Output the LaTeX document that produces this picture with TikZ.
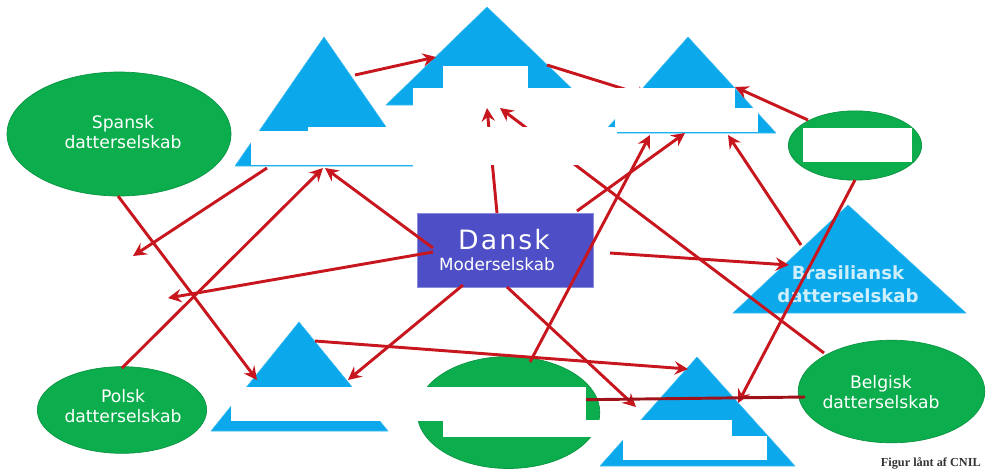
\documentclass[tikz,border=0pt]{standalone}
\usepackage{fontspec}
\setmainfont{DejaVu Sans}
\newfontfamily\capfont{Liberation Serif}
\usetikzlibrary{arrows.meta,shapes.geometric}
\definecolor{grn}{HTML}{0BAD4C}
\definecolor{blu}{HTML}{0BA9EC}
\definecolor{lnk}{HTML}{C8161F}
\definecolor{boxf}{HTML}{4E4EC6}
\definecolor{boxe}{HTML}{8A8CDC}
\tikzset{
  x=0.75pt,y=-0.75pt,
  oval/.style={ellipse,fill=grn,draw=grn!85!black,line width=0.5pt,inner sep=0pt},
  ovaltext/.style={text=white,align=center,inner sep=0pt,font=\fontsize{12.9}{14.6}\selectfont},
  tri/.style={fill=blu,draw=blu!80!white,line width=0.4pt,line join=round},
  link/.style={draw=lnk,line width=2.2pt,-{Stealth[length=10pt,width=10pt,inset=3.5pt]}},
  mask/.style={fill=white,draw=none},
}
\begin{document}
\begin{tikzpicture}
\useasboundingbox (0,0) rectangle (992,469);
% ovals
\node[oval,minimum width=168pt,minimum height=93pt] (spansk) at (119,134) {};
\node[oval,minimum width=127pt,minimum height=65pt] (polsk) at (122,410) {};
\node[oval,minimum width=100pt,minimum height=52pt] (topoval) at (855,145.5) {};
\node[oval,minimum width=137pt,minimum height=84pt] (midoval) at (508.5,412.5) {};
\node[oval,minimum width=140pt,minimum height=77pt] (belgisk) at (891.5,391.5) {};
% triangles
\fill[tri] (324,37) -- (413,166) -- (235,166) -- cycle;
\fill[tri] (487,7) -- (589,105) -- (386,105) -- cycle;
\fill[tri] (688,37) -- (776,133) -- (603,133) -- cycle;
\fill[tri] (848,205) -- (966,313) -- (733,313) -- cycle;
\fill[tri] (299,322) -- (388,431) -- (211,431) -- cycle;
\fill[tri] (697,357) -- (795,466) -- (600,466) -- cycle;
% box
\node[fill=boxf,draw=boxe,line width=1.2pt,minimum width=132pt,minimum height=55.5pt,inner sep=0pt] (box) at (505.5,250.5) {};
\node[text=white,font=\fontsize{20}{22}\selectfont,inner sep=0pt] (dansk) at (504,240) {D\kern1.6pt a\kern1.6pt n\kern1.6pt s\kern1.6pt k};
\node[text=white,font=\fontsize{12.6}{14}\selectfont,inner sep=0pt] (moder) at (497,264) {Moderselskab};
% connector ends
\coordinate (a1) at (355,75);   \coordinate (b1) at (436,57);
\coordinate (a2) at (547,65);   \coordinate (b2) at (650,97);
\coordinate (a3) at (497,213);  \coordinate (b3) at (487,108);
\coordinate (a4) at (824,353);  \coordinate (b4) at (500,108);
\coordinate (a5) at (577,211);  \coordinate (b5) at (685,133);
\coordinate (a6) at (530,362);  \coordinate (b6) at (650,135);
\coordinate (a7) at (801,245);  \coordinate (b7) at (728,135);
\coordinate (a8) at (808,120);  \coordinate (b8) at (735,87);
\coordinate (a9) at (855,180);  \coordinate (b9) at (738,403);
\coordinate (a10) at (610,253); \coordinate (b10) at (789,265);
\coordinate (a11) at (267,168); \coordinate (b11) at (133,256);
\coordinate (a12) at (118,196); \coordinate (b12) at (257,380);
\coordinate (a13) at (122,368); \coordinate (b13) at (323,168);
\coordinate (a14) at (433,248); \coordinate (b14) at (325,168);
\coordinate (a15) at (433,252); \coordinate (b15) at (168,298);
\coordinate (a16) at (463,285); \coordinate (b16) at (348,380);
\coordinate (a17) at (507,287); \coordinate (b17) at (636,407);
\coordinate (a18) at (315,341); \coordinate (b18) at (688,369);
\coordinate (a19) at (805,397); \coordinate (b19) at (560,400);
% labels under the lines
\node[text=blu!20!white,font=\bfseries\fontsize{13.6}{17}\selectfont,align=center,inner sep=0pt] (bras) at (848,284) {Brasiliansk\\datterselskab};
\node[ovaltext] (spansklabel) at (123,132) {Spansk\\datterselskab};
\node[ovaltext] (polsklabel) at (123,406) {Polsk\\datterselskab};
\node[ovaltext] (belgisklabel) at (881,392) {Belgisk\\datterselskab};
% connectors
\foreach \n in {1,...,18} \draw[link] (a\n) -- (b\n);
\draw[link,draw=lnk!80!black] (a19) -- (b19);
% blanked labels
\fill[mask] (443,66) rectangle (528,88);
\fill[mask] (413,88) rectangle (735,108);
\fill[mask] (615,108) rectangle (758,132);
\fill[mask] (251,131) rectangle (617,165);
\fill[mask] (308,127) rectangle (617,131);
\fill[mask] (803,128) rectangle (912,162);
\fill[mask] (231,387) rectangle (586,421);
\fill[mask] (443,420) rectangle (732,437);
\fill[mask] (623,436) rectangle (767,460);
% caption
\node[anchor=east,inner sep=0pt,font=\capfont\bfseries\fontsize{9.2}{10}\selectfont,text=black!80] (caption) at (981,463) {Figur lånt af CNIL};
\end{tikzpicture}
\end{document}
